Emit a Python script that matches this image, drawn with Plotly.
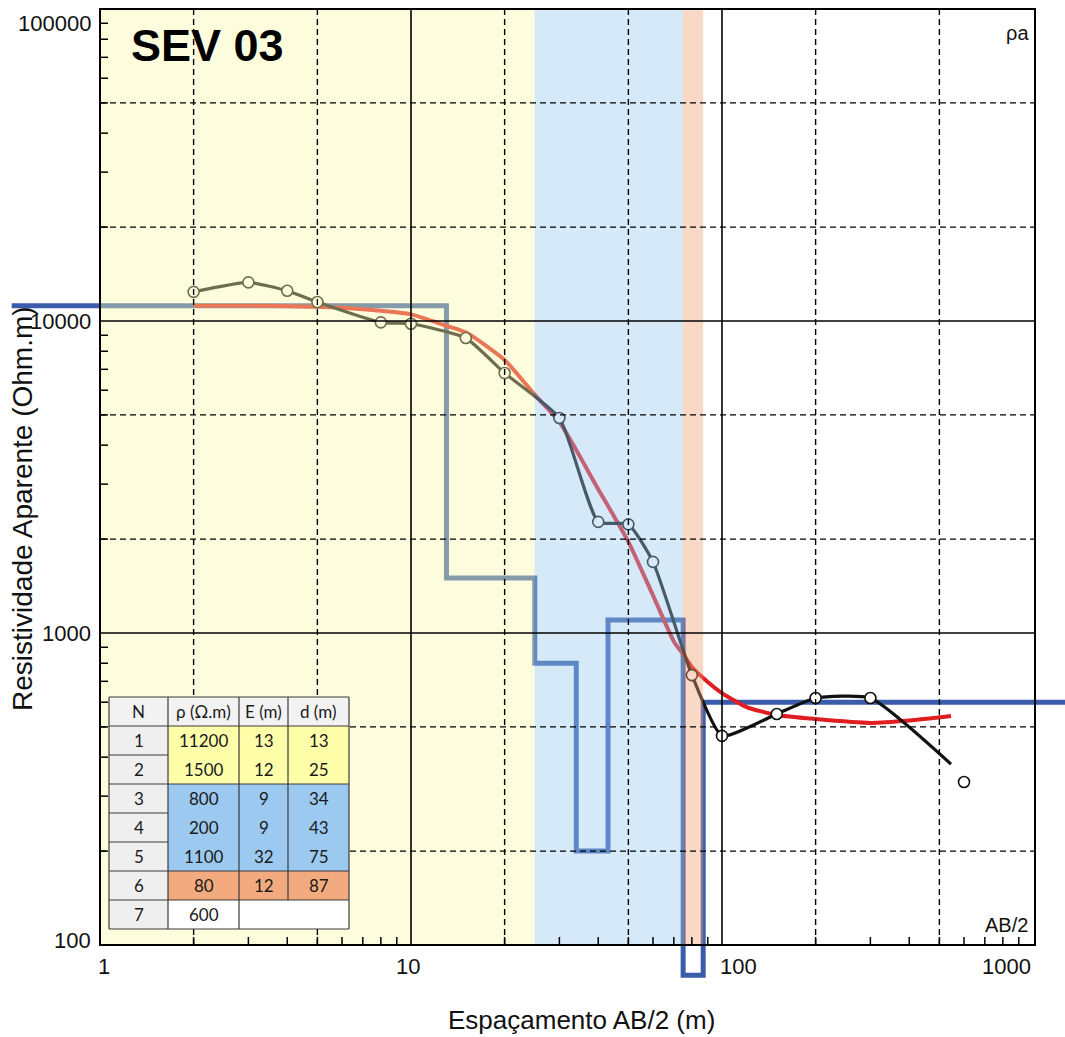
import math
import plotly.graph_objects as go

# ---------------------------------------------------------------
# SEV 03 - vertical electrical sounding (Schlumberger)
# ---------------------------------------------------------------
# field readings: half electrode spacing AB/2 (m) and apparent resistivity (ohm.m)
ab2 = [2, 3, 4, 5, 8, 10, 15, 20, 30, 40, 50, 60, 80, 100, 150, 200, 300, 600]
rho_a = [12400, 13300, 12500, 11500, 9900, 9800, 8820, 6810, 4890, 2270, 2230,
         1690, 733, 468, 550, 619, 619, 333]

# field curve traced through the readings (stops short of the last reading)
field_x = [2, 3, 4, 5, 8, 10, 15, 20, 30, 40, 50, 60, 80, 100, 150, 200, 300, 545]
field_y = [12400, 13300, 12500, 11500, 9900, 9800, 8820, 6810, 4890, 2270, 2230,
           1690, 733, 468, 550, 619, 619, 380]

# calculated response of the interpreted layered model
model_x = [2, 3, 5, 7, 10, 13, 15, 20, 25, 30, 40, 50, 60, 70, 75, 80, 90, 100,
           120, 150, 200, 300, 400, 545]
model_y = [11200, 11200, 11100, 10900, 10500, 9650, 9200, 7500, 5800, 4750, 2890,
           1960, 1320, 940, 855, 778, 697, 642, 579, 546, 530, 515, 524, 542]

# interpreted layers: resistivity, thickness E and depth to base d
layer_n = [1, 2, 3, 4, 5, 6, 7]
layer_rho = [11200, 1500, 800, 200, 1100, 80, 600]
layer_e = [13, 12, 9, 9, 32, 12, None]
layer_d = [13, 25, 34, 43, 75, 87, None]
table_header = ["N", "ρ (Ω.m)", "E (m)", "d (m)"]

# extent of the drawn model column along AB/2
model_start, model_end = 0.52, 1500

# groups of layers shaded on the chart and in the table: (first, last+1)
groups = [(0, 2), (2, 5), (5, 6)]
band_fill = ["rgba(250,250,170,0.40)", "rgba(150,200,240,0.40)", "rgba(240,160,110,0.40)"]
cell_fill = ["#FFFFAA", "#9CC9F0", "#F3AA7E"]

# axis labels
x_ticks = [1, 10, 100, 1000]
y_ticks = [100, 1000, 10000, 100000]

# ---------------------------------------------------------------
# page geometry (pixels)
W, H = 1065, 1037
L, R, T, B = 100, 1035, 9, 945
XDEC = 311.0
YDEC = (B - T) / 3.0

FONT = "Liberation Sans, Arial, sans-serif"
TFONT = "Lato, sans-serif"

fig = go.Figure()

# model column: step line, value held until the base of each layer
step_x = [model_start] + layer_d[:-1] + [model_end]
step_y = layer_rho + [layer_rho[-1]]
fig.add_trace(go.Scatter(
    x=step_x, y=step_y, mode="lines", line=dict(color="#3A5CAB", width=5, shape="hv"),
    xaxis="x2", yaxis="y2", showlegend=False, hoverinfo="skip"))

# model response
fig.add_trace(go.Scatter(
    x=model_x, y=model_y, mode="lines",
    line=dict(color="#E01E22", width=4, shape="spline", smoothing=0.6),
    xaxis="x2", yaxis="y2", showlegend=False))

# field curve
fig.add_trace(go.Scatter(
    x=field_x, y=field_y, mode="lines",
    line=dict(color="#111111", width=3.2, shape="spline", smoothing=0.5),
    xaxis="x2", yaxis="y2", showlegend=False))

# field readings
fig.add_trace(go.Scatter(
    x=ab2, y=rho_a, mode="markers",
    marker=dict(symbol="circle", size=11, color="white",
                line=dict(color="#111111", width=1.6)),
    xaxis="x2", yaxis="y2", showlegend=False))

shapes = []
annotations = []

# shaded layer groups, laid over the curves
left_edge = 1
for g, (a, b) in enumerate(groups):
    x0 = left_edge if a == 0 else layer_d[a - 1]
    x1 = layer_d[b - 1]
    shapes.append(dict(type="rect", xref="x", yref="y domain", x0=x0, x1=x1, y0=0, y1=1,
                       fillcolor=band_fill[g], line=dict(width=0), layer="above"))

# grid: solid at decades, dashed at 2 and 5
for dec in [1, 10, 100]:
    for m, solid in [(2, False), (5, False), (10, True)]:
        v = dec * m
        if v >= 1000:
            continue
        shapes.append(dict(type="line", xref="x", yref="y domain", x0=v, x1=v, y0=0, y1=1,
                           line=dict(color="black", width=1.6 if solid else 1.4,
                                     dash="solid" if solid else "6px,4px"),
                           layer="above"))
for dec in [100, 1000, 10000]:
    for m, solid in [(2, False), (5, False), (10, True)]:
        v = dec * m
        if v >= 100000:
            continue
        shapes.append(dict(type="line", xref="x domain", yref="y", x0=0, x1=1, y0=v, y1=v,
                           line=dict(color="black", width=1.6 if solid else 1.4,
                                     dash="solid" if solid else "6px,4px"),
                           layer="above"))

# minor ticks along the bottom and left edges
TICK = 8
for dec in [1, 10, 100]:
    for m in range(2, 10):
        shapes.append(dict(type="line", xref="x", yref="y domain", x0=dec * m, x1=dec * m,
                           y0=0, y1=TICK / (B - T), line=dict(color="black", width=1.5),
                           layer="above"))
for dec in [100, 1000, 10000]:
    for m in range(2, 10):
        shapes.append(dict(type="line", xref="x domain", yref="y", x0=0, x1=TICK / (R - L),
                           y0=dec * m, y1=dec * m, line=dict(color="black", width=1.5),
                           layer="above"))

# frame
shapes.append(dict(type="rect", xref="x domain", yref="y domain", x0=0, x1=1, y0=0, y1=1,
                   line=dict(color="black", width=2), layer="above"))

# ---------------------------------------------------------------
# layer table (cells drawn in page pixels)
col_x = [109, 168, 239, 288, 349]
row_y0, row_h = 697, 29
n_rows = len(layer_n) + 1
LINE = dict(color="#3A3A3A", width=1.2)


def px(x):
    return x / W


def py(y):
    return 1 - y / H


def cell(c, r, fill):
    shapes.append(dict(type="rect", xref="paper", yref="paper",
                       x0=px(col_x[c]), x1=px(col_x[c + 1]),
                       y0=py(row_y0 + (r + 1) * row_h), y1=py(row_y0 + r * row_h),
                       fillcolor=fill, line=dict(width=0), layer="above"))


def hline(x0, x1, y):
    shapes.append(dict(type="line", xref="paper", yref="paper", x0=px(x0), x1=px(x1),
                       y0=py(y), y1=py(y), line=LINE, layer="above"))


def vline(x, y0, y1):
    shapes.append(dict(type="line", xref="paper", yref="paper", x0=px(x), x1=px(x),
                       y0=py(y0), y1=py(y1), line=LINE, layer="above"))


def group_of(i):
    for g, (a, b) in enumerate(groups):
        if a <= i < b:
            return g
    return None


# fills
for c in range(4):
    cell(c, 0, "#F2F2F2")
for i in range(len(layer_n)):
    cell(0, i + 1, "#EFEFEF")
    g = group_of(i)
    for c in range(1, 4):
        cell(c, i + 1, "white" if g is None else cell_fill[g])

y_top = row_y0
y_bot = row_y0 + n_rows * row_h
y_last = row_y0 + len(layer_n) * row_h
# borders
hline(col_x[0], col_x[-1], y_top)
hline(col_x[0], col_x[-1], y_bot)
vline(col_x[0], y_top, y_bot)
vline(col_x[-1], y_top, y_bot)
vline(col_x[1], y_top, y_bot)
vline(col_x[2], y_top, y_bot)
vline(col_x[3], y_top, y_last)
for r in range(1, n_rows):
    hline(col_x[0], col_x[1], row_y0 + r * row_h)
hline(col_x[1], col_x[-1], row_y0 + row_h)
for a, b in groups:
    hline(col_x[1], col_x[-1], row_y0 + (b + 1) * row_h)

# texts
table_cols = [layer_n, layer_rho, layer_e, layer_d]
for c in range(4):
    xc = px((col_x[c] + col_x[c + 1]) / 2)
    annotations.append(dict(text=table_header[c], xref="paper", yref="paper", x=xc,
                            y=py(row_y0 + row_h / 2), xanchor="center", yanchor="middle",
                            showarrow=False, font=dict(family=TFONT, size=17, color="#1A1A1A")))
    for i, v in enumerate(table_cols[c]):
        if v is None:
            continue
        annotations.append(dict(text=str(v), xref="paper", yref="paper", x=xc,
                                y=py(row_y0 + (i + 1.5) * row_h), xanchor="center",
                                yanchor="middle", showarrow=False,
                                font=dict(family=TFONT, size=17, color="#1A1A1A")))

# ---------------------------------------------------------------
# tick labels
x_lab_y = 1 - 966 / H
x_anchor = {1: ("center", 4), 10: ("center", -3), 100: ("left", -4), 1000: ("right", 0)}
for v in x_ticks:
    anc, sh = x_anchor[v]
    annotations.append(dict(text=str(v), xref="x", yref="paper", x=math.log10(v), y=x_lab_y,
                            xanchor=anc, yanchor="middle", xshift=sh, showarrow=False,
                            font=dict(family=FONT, size=22, color="#111")))
y_anchor = {100: ("middle", 5), 1000: ("middle", 0), 10000: ("middle", 0), 100000: ("top", 0)}
for v in y_ticks:
    anc, sh = y_anchor[v]
    annotations.append(dict(text=str(v), xref="paper", yref="y", x=93 / W, y=math.log10(v),
                            xanchor="right", yanchor=anc, yshift=sh, showarrow=False,
                            font=dict(family=FONT, size=22, color="#111")))

annotations += [
    dict(text="<b>SEV 03</b>", xref="paper", yref="paper", x=129 / W, y=1 - 45 / H,
         xanchor="left", yanchor="middle", showarrow=False,
         font=dict(family=FONT, size=45, color="black")),
    dict(text="ρa", xref="paper", yref="paper", x=1031 / W, y=1 - 33 / H,
         xanchor="right", yanchor="middle", showarrow=False,
         font=dict(family=FONT, size=20, color="#111")),
    dict(text="AB/2", xref="paper", yref="paper", x=1030 / W, y=1 - 925 / H,
         xanchor="right", yanchor="middle", showarrow=False,
         font=dict(family=FONT, size=20, color="#111")),
    dict(text="Espaçamento AB/2 (m)", xref="paper", yref="paper", x=581 / W, y=1 - 1020 / H,
         xanchor="center", yanchor="middle", showarrow=False,
         font=dict(family=FONT, size=26, color="#111")),
    dict(text="Resistividade Aparente (Ohm.m)", xref="paper", yref="paper", x=22 / W,
         y=1 - 509 / H, xanchor="center", yanchor="middle", textangle=-90, showarrow=False,
         font=dict(family=FONT, size=28, color="#111")),
]

fig.update_layout(
    width=W, height=H,
    margin=dict(l=0, r=0, t=0, b=0),
    paper_bgcolor="white", plot_bgcolor="rgba(0,0,0,0)",
    showlegend=False,
    xaxis=dict(type="log", domain=[L / W, R / W], range=[0, (R - L) / XDEC],
               showgrid=False, zeroline=False, showline=False, showticklabels=False,
               ticks="", fixedrange=True, anchor="y"),
    yaxis=dict(type="log", domain=[1 - B / H, 1 - T / H], range=[2, 5],
               showgrid=False, zeroline=False, showline=False, showticklabels=False,
               ticks="", fixedrange=True, anchor="x"),
    xaxis2=dict(type="log", domain=[0, 1], range=[-L / XDEC, (W - L) / XDEC],
                visible=False, anchor="y2", fixedrange=True),
    yaxis2=dict(type="log", domain=[0, 1], range=[2 - (H - B) / YDEC, 5 + T / YDEC],
                visible=False, anchor="x2", fixedrange=True),
    shapes=shapes,
    annotations=annotations,
)

fig.write_html("out.html")
